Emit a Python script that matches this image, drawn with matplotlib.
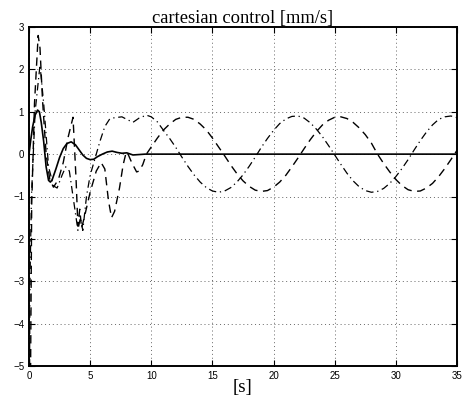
import matplotlib
matplotlib.use('Agg')
import matplotlib.pyplot as plt

# time / value pairs
t_solid = [0, 0.15, 0.3, 0.5, 0.7, 0.85, 1.0, 1.2, 1.4, 1.6, 1.75, 1.9, 2.2, 2.5, 2.8,
           3.1, 3.45, 3.8, 4.1, 4.4, 4.7, 5.0, 5.3, 5.6, 6.0, 6.4, 6.8, 7.2, 7.6, 8.0,
           8.5, 9.0, 9.5, 10, 35]
y_solid = [0.0, 0.35, 0.65, 0.92, 1.04, 1.0, 0.75, 0.3, -0.3, -0.62, -0.66, -0.6, -0.35, -0.08, 0.13,
           0.25, 0.29, 0.22, 0.1, -0.02, -0.1, -0.13, -0.12, -0.06, 0.0, 0.05, 0.07, 0.04, 0.02, 0.03,
           -0.02, -0.01, 0.0, 0.0, 0.0]

t_dash_early = [0, 0.12, 0.22, 0.45, 0.75, 0.9, 1.1, 1.4, 1.7, 2.0, 2.4, 2.8, 3.2, 3.6,
                3.85, 4.0, 4.15, 4.3, 4.6, 5.0, 5.5, 5.9, 6.2, 6.5, 6.75, 7.0, 7.4, 7.7,
                7.95, 8.1, 8.4, 8.8, 9.0, 9.3, 9.6]
y_dash_early = [-9.0, -5.5, -1.2, 1.2, 2.8, 2.5, 1.3, 0.0, -0.6, -0.78, -0.6, -0.2, 0.4, 0.87,
                -0.6, -1.7, -1.3, -1.75, -1.4, -0.9, -0.4, -0.2, -0.35, -1.1, -1.5, -1.35, -0.8, -0.25,
                0.05, 0.0, -0.2, -0.42, -0.4, -0.25, 0.0]
t_tail = [10 + 0.5 * i for i in range(51)]
y_dash_tail = [0.17, 0.38, 0.57, 0.71, 0.82, 0.87, 0.87, 0.82, 0.71, 0.57, 0.38, 0.17,
               -0.04, -0.26, -0.46, -0.63, -0.76, -0.85, -0.88, -0.86, -0.78, -0.66, -0.50, -0.30,
               -0.09, 0.13, 0.34, 0.53, 0.69, 0.80, 0.87, 0.88, 0.84, 0.75, 0.62, 0.46,
               0.26, 0.00, -0.22, -0.42, -0.60, -0.74, -0.84, -0.88, -0.87, -0.80, -0.69, -0.53,
               -0.34, -0.13, 0.09]

t_dd_early = [0, 0.08, 0.2, 0.5, 0.9, 1.2, 1.6, 2.0, 2.3, 2.7, 3.0, 3.3, 3.7, 4.0, 4.2, 4.4,
              4.7, 5.0, 5.4, 5.8, 6.2, 6.6, 7.0, 7.6, 8.0, 8.5, 9.0, 9.6]
y_dd_early = [-8.0, -3.0, -1.0, 1.0, 2.1, 1.2, -0.3, -0.75, -0.8, -0.5, -0.3, -0.4, -1.2, -1.8, -1.5, -1.8,
              -1.0, -0.5, -0.1, 0.3, 0.65, 0.83, 0.86, 0.88, 0.82, 0.75, 0.85, 0.92]
y_dd_tail = [0.88, 0.76, 0.56, 0.37, 0.16, -0.07, -0.29, -0.49, -0.66, -0.79, -0.87, -0.90,
             -0.87, -0.79, -0.66, -0.49, -0.29, -0.07, 0.16, 0.37, 0.56, 0.72, 0.83, 0.89,
             0.90, 0.85, 0.74, 0.59, 0.41, 0.20, -0.02, -0.24, -0.45, -0.63, -0.77, -0.86,
             -0.90, -0.88, -0.81, -0.69, -0.53, -0.34, -0.13, 0.10, 0.32, 0.52, 0.69, 0.82,
             0.88, 0.90, 0.86]

xticks = [0, 5, 10, 15, 20, 25, 30, 35]
yticks = [-5, -4, -3, -2, -1, 0, 1, 2, 3]

fig = plt.figure(figsize=(4.68, 3.98), dpi=100)
ax = fig.add_axes([29 / 468, 32 / 398, 428 / 468, 339 / 398])

ax.plot(t_solid, y_solid, color='black', lw=1.2)
ax.plot(t_dash_early + t_tail, y_dash_early + y_dash_tail, color='black', lw=1.0,
        linestyle=(0, (6, 4)))
ax.plot(t_dd_early + t_tail, y_dd_early + y_dd_tail, color='black', lw=0.9,
        linestyle=(0, (6, 3, 1, 3)))

ax.set_xlim(0, 35)
ax.set_ylim(-5, 3)
ax.set_xticks(xticks)
ax.set_yticks(yticks)
ax.grid(True, linestyle=(0, (1, 3)), color='#666666', linewidth=0.7)
ax.tick_params(direction='in', top=True, right=True, length=4, width=0.8, labelsize=7)
for lab in ax.get_xticklabels() + ax.get_yticklabels():
    lab.set_family('Liberation Sans')
for s in ax.spines.values():
    s.set_linewidth(1.4)

ax.set_title('cartesian control [mm/s]', family='Liberation Serif', fontsize=13.3, pad=3)
ax.set_xlabel('[s]', family='Liberation Serif', fontsize=13.5, labelpad=-1)

fig.savefig('out.png', dpi=100)
